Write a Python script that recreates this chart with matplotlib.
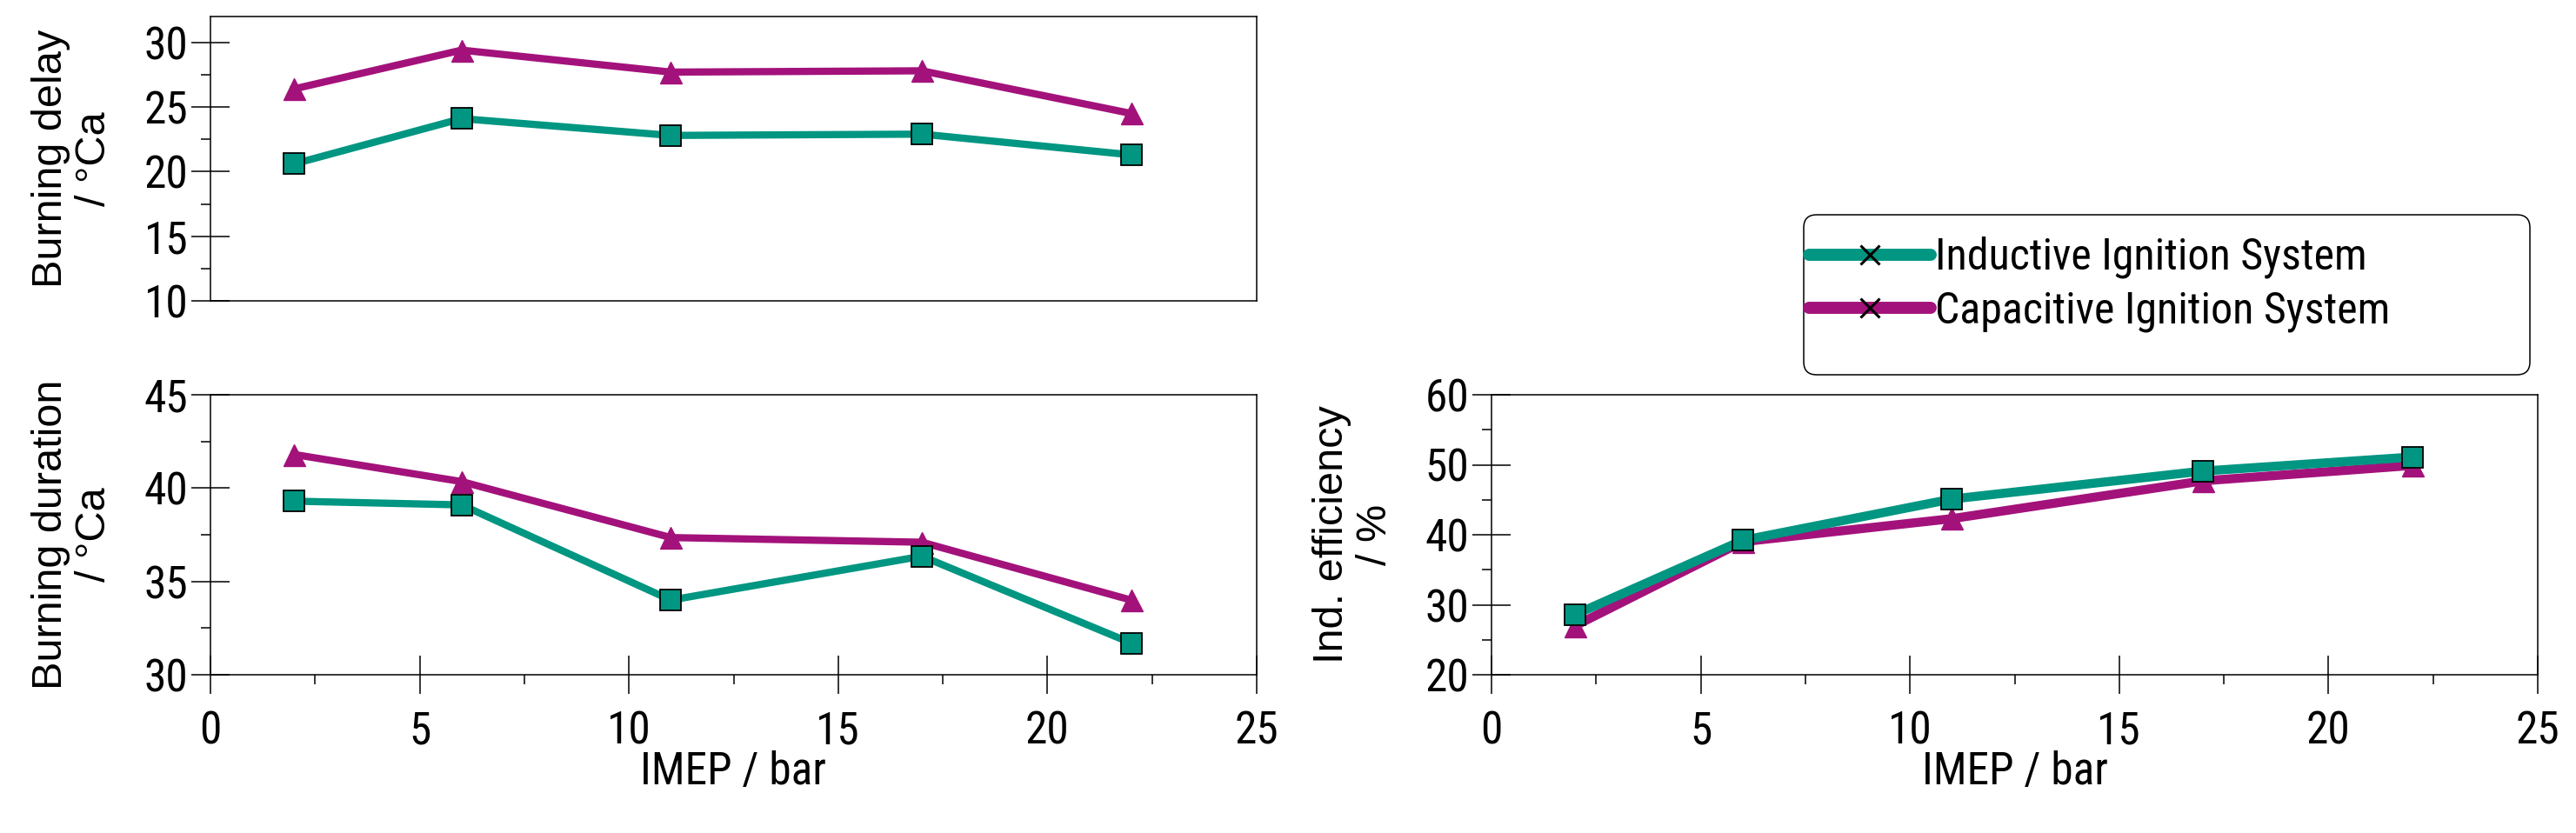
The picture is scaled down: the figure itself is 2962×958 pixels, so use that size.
import matplotlib.pyplot as plt
import matplotlib.patches as mpatches
from matplotlib.lines import Line2D
from matplotlib.ticker import MultipleLocator

# data
imep = [2, 6, 11, 17, 22]
delay_ind = [20.6, 24.1, 22.8, 22.9, 21.3]
delay_cap = [26.4, 29.4, 27.7, 27.8, 24.5]
dur_ind = [39.3, 39.1, 34.0, 36.35, 31.7]
dur_cap = [41.8, 40.35, 37.35, 37.1, 34.0]
eff_ind = [28.6, 39.2, 45.1, 49.1, 51.1]
eff_cap = [27.0, 39.0, 42.3, 47.7, 49.9]

labels = ["Inductive Ignition System", "Capacitive Ignition System"]
teal = '#009682'
purple = '#A3127B'

narrow = ['Roboto Condensed', 'Liberation Sans', 'DejaVu Sans']
regular = ['Liberation Sans', 'DejaVu Sans']
fs = 37

W, H = 2962, 958
fig = plt.figure(figsize=(W/100, H/100), dpi=100)


def frac(x0, y0, x1, y1):
    return [x0/W, 1 - y1/H, (x1 - x0)/W, (y1 - y0)/H]


ax1 = fig.add_axes(frac(242, 19, 1445, 346))
ax2 = fig.add_axes(frac(242, 454, 1445, 776))
ax3 = fig.add_axes(frac(1715, 454, 2918, 776))


def style(ax, ylim, ymaj, ymin, ylabel, xticks=True):
    ax.set_xlim(0, 25)
    ax.set_ylim(*ylim)
    ax.yaxis.set_major_locator(MultipleLocator(ymaj))
    ax.yaxis.set_minor_locator(MultipleLocator(ymin))
    ax.xaxis.set_major_locator(MultipleLocator(5))
    ax.xaxis.set_minor_locator(MultipleLocator(2.5))
    for s in ax.spines.values():
        s.set_linewidth(1.1)
    ax.tick_params(axis='y', which='major', direction='inout', length=31,
                   width=1.1, pad=3, labelsize=fs)
    ax.tick_params(axis='x', which='major', direction='inout', length=31,
                   width=1.1, pad=14, labelsize=fs)
    ax.tick_params(which='minor', direction='out', length=8, width=1.1)
    if not xticks:
        ax.tick_params(axis='x', which='both', bottom=False, labelbottom=False)
    for t in ax.get_xticklabels() + ax.get_yticklabels():
        t.set_family(narrow)
    ax.set_ylabel(ylabel, family=regular, fontsize=35, linespacing=1.15)
    ax.yaxis.set_label_coords(-0.092, 0.5)
    if xticks:
        ax.set_xlabel("IMEP / bar", family=narrow, fontsize=fs)
        ax.xaxis.set_label_coords(0.5, -0.27)


def draw(ax, yi, yc, lw):
    ax.plot(imep, yi, color=teal, lw=lw, marker='s', ms=17,
            mfc=teal, mec='black', mew=1.3, zorder=3)
    ax.plot(imep, yc, color=purple, lw=lw, marker='^', ms=18,
            mfc=purple, mec=purple, zorder=2)


draw(ax1, delay_ind, delay_cap, 6)
draw(ax2, dur_ind, dur_cap, 6)
draw(ax3, eff_ind, eff_cap, 7.5)

style(ax1, (10, 32), 5, 2.5, "Burning delay\n/ °Ca", xticks=False)
style(ax2, (30, 45), 5, 2.5, "Burning duration\n/ °Ca")
style(ax3, (20, 60), 10, 5, "Ind. efficiency\n/ %")

# legend
handles = [Line2D([], [], color=c, lw=10, solid_capstyle='round',
                  marker='x', ms=16, mec='black', mew=2.2)
           for c in (teal, purple)]
fig.legend(handles, labels, loc='upper left',
           bbox_to_anchor=(2080/W, 1 - 272/H), frameon=False,
           prop={'family': narrow, 'size': 36},
           handlelength=2.8, handletextpad=0.1, labelspacing=0.25,
           borderpad=0, borderaxespad=0)

frame = mpatches.FancyBboxPatch((2074/W, 1 - 431/H), 835/W, 184/H,
                                boxstyle='round,pad=0,rounding_size=0.005',
                                mutation_aspect=W/H, transform=fig.transFigure,
                                fill=False, ec='black', lw=1.1)
fig.patches.append(frame)

fig.savefig('out.png', dpi=100)
